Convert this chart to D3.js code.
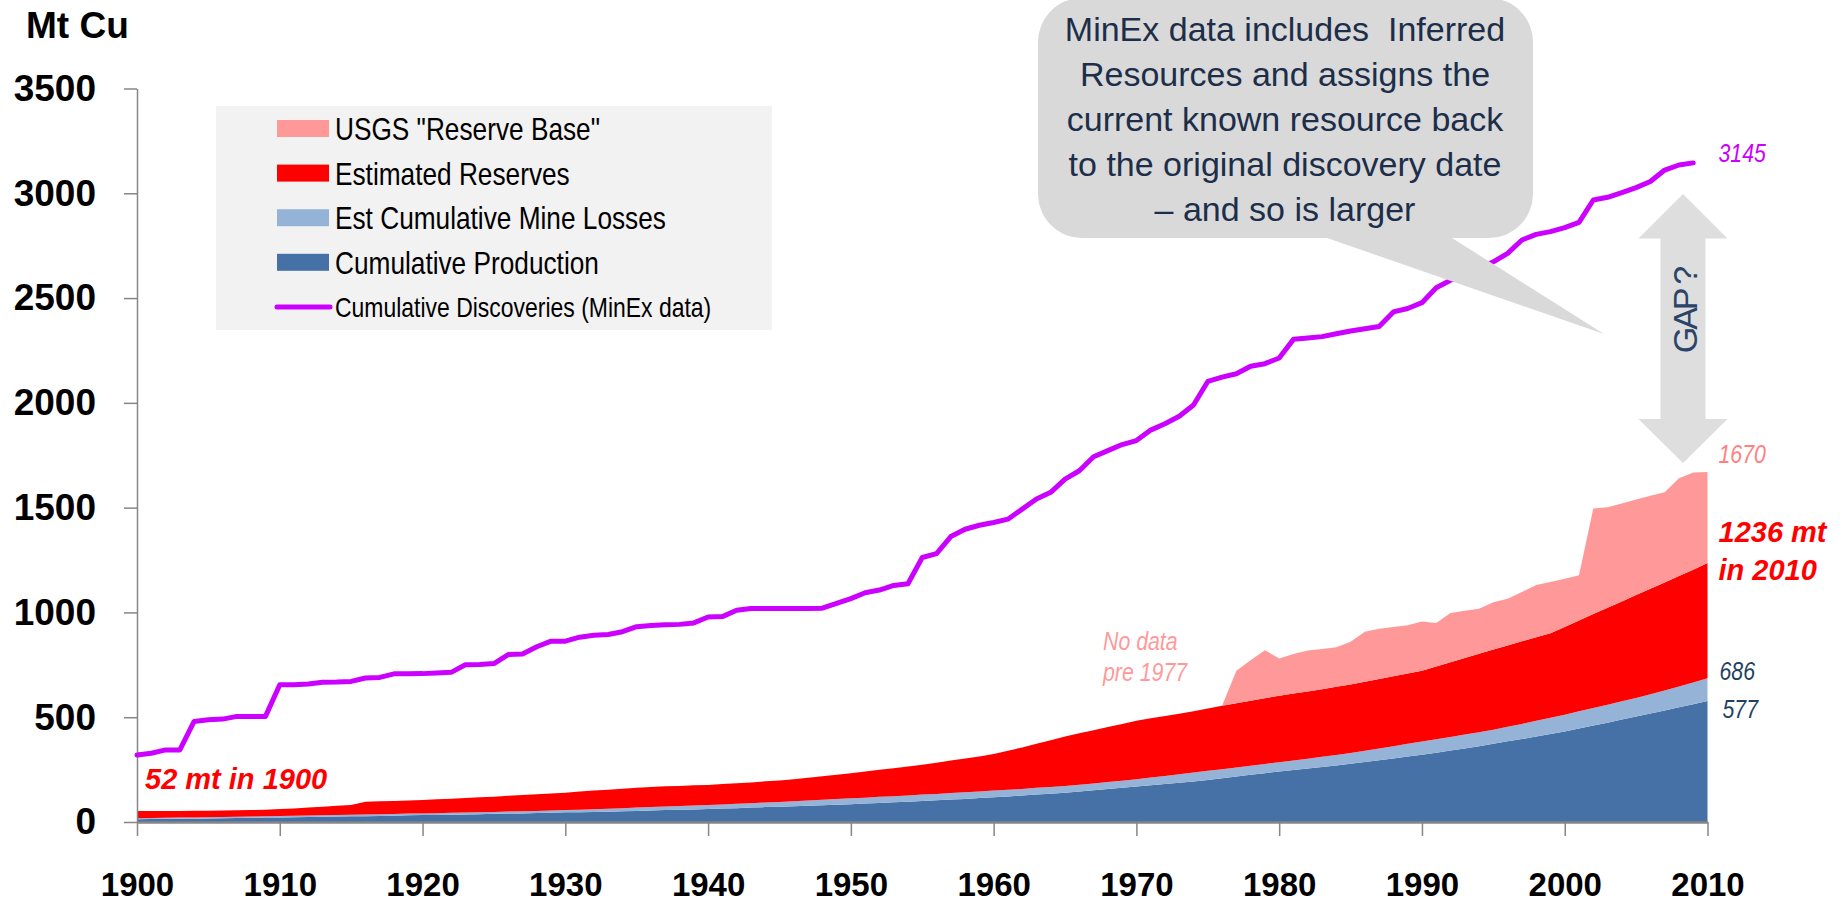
<!DOCTYPE html>
<html>
<head>
<meta charset="utf-8">
<script src="https://cdn.jsdelivr.net/npm/d3@7"></script>
<style>
  html, body { margin: 0; padding: 0; background: #fff; }
  svg { display: block; }
  text { font-family: "Liberation Sans", Arial, sans-serif; }
</style>
</head>
<body>
<div id="chart"></div>
<script>
var width = 1848, height = 907;

// categories
var years = d3.range(1900, 2011);
var discoveryYears = d3.range(1900, 2010);
var reserveBaseYears = d3.range(1976, 2011);
var yTicks = [0, 500, 1000, 1500, 2000, 2500, 3000, 3500];
var xTicks = [1900, 1910, 1920, 1930, 1940, 1950, 1960, 1970, 1980, 1990, 2000, 2010];

// stacked tops (Mt Cu), one value per year 1900-2010
var productionTop = [
  13,14,15,15,16,17,18,19,20,21,
  22,23,24,25,26,27,28,29,30,32,
  33,34,35,36,37,39,40,41,43,44,
  46,47,48,49,51,53,55,57,58,60,
  62,64,66,69,71,73,75,78,80,82,
  85,88,91,94,97,100,104,107,110,114,
  118,122,126,131,135,140,145,151,157,163,
  169,175,181,187,193,201,209,217,225,233,
  241,248,255,263,270,278,286,295,303,312,
  321,331,341,351,362,373,385,396,408,420,
  432,446,460,474,489,504,518,532,547,562,577
];
var lossesTop = [
  18,19,20,21,22,23,24,25,26,28,
  29,30,31,32,34,35,36,37,38,40,
  41,42,44,45,47,48,50,51,53,55,
  57,59,61,63,66,69,72,74,76,79,
  81,84,87,90,93,96,99,103,106,110,
  113,116,120,123,127,131,134,138,142,146,
  150,154,158,163,167,172,178,184,191,197,
  204,212,220,228,236,244,252,260,268,277,
  285,294,302,311,320,329,340,351,362,373,
  384,395,406,417,428,440,454,468,483,497,
  512,528,544,560,576,592,610,628,647,666,686
];
var reservesTop = [
  52,52,53,53,54,54,55,56,57,59,
  62,65,69,73,77,81,97,99,100,102,
  105,108,111,114,118,121,125,129,132,136,
  140,145,150,154,159,164,167,170,172,175,
  177,181,185,189,194,198,204,211,218,226,
  233,241,249,257,265,273,283,293,303,313,
  324,340,356,373,390,408,423,438,453,468,
  483,495,506,517,528,541,555,567,579,591,
  603,613,623,634,645,656,669,682,695,708,
  722,742,762,783,803,823,842,862,882,901,
  931,961,992,1022,1052,1083,1113,1143,1174,1204,1236
];
// USGS reserve base, 1976-2010
var reserveBaseTop = [
  555,722,772,820,780,802,818,826,834,860,
  908,922,930,939,957,949,997,1008,1018,1049,
  1065,1097,1131,1145,1161,1177,1496,1502,1520,1539,
  1557,1573,1640,1668,1670
];
// cumulative discoveries (MinEx), 1900-2009
var discoveries = [
  320,328,344,344,480,488,491,504,504,504,
  655,655,659,667,668,671,687,690,707,707,
  708,711,714,750,751,756,799,802,836,863,
  863,882,891,895,908,932,938,941,943,950,
  978,980,1010,1019,1019,1019,1019,1019,1020,1043,
  1066,1094,1107,1129,1137,1262,1281,1362,1397,1416,
  1429,1445,1493,1541,1573,1636,1676,1743,1772,1801,
  1820,1870,1900,1936,1990,2102,2123,2139,2175,2187,
  2214,2303,2309,2316,2330,2343,2354,2364,2434,2450,
  2478,2549,2585,2609,2641,2673,2713,2777,2804,2817,
  2836,2861,2968,2981,3003,3027,3056,3111,3135,3145
];

var legendLabels = ['USGS "Reserve Base"', 'Estimated Reserves', 'Est Cumulative Mine Losses', 'Cumulative Production', 'Cumulative Discoveries (MinEx data)'];
var calloutLines = ['MinEx data includes  Inferred', 'Resources and assigns the', 'current known resource back', 'to the original discovery date', '\u2013 and so is larger'];

var colors = {
  reserveBase: '#ff9999',
  reserves: '#ff0000',
  losses: '#95b3d7',
  production: '#4571a6',
  discoveries: '#cc00ff'
};

var svg = d3.select('#chart')
  .append('svg')
  .attr('width', width)
  .attr('height', height);

var x = d3.scaleLinear().domain([1900, 2010]).range([137, 1707.5]);
var y = d3.scaleLinear().domain([0, 3500]).range([822, 88.5]);

// arial-narrow look: squeeze a normal face horizontally
function narrowText(px, py, size, txt){
  return svg.append('text')
    .attr('transform', 'translate(' + px + ',' + py + ') scale(0.82,1)')
    .style('font-size', size + 'px')
    .text(txt);
}

// stacked bands
var bands = [
  { lower: null, upper: productionTop, color: colors.production },
  { lower: productionTop, upper: lossesTop, color: colors.losses },
  { lower: lossesTop, upper: reservesTop, color: colors.reserves }
];

var area = d3.area()
  .x(function(d){ return x(d.year); })
  .y0(function(d){ return y(d.lo); })
  .y1(function(d){ return y(d.hi); });

bands.forEach(function(b){
  var rows = years.map(function(yr, i){
    return { year: yr, lo: b.lower ? b.lower[i] : 0, hi: b.upper[i] };
  });
  svg.append('path')
    .datum(rows)
    .attr('d', area)
    .attr('fill', b.color);
});

var rbRows = reserveBaseYears.map(function(yr, i){
  return { year: yr, lo: reservesTop[yr - 1900], hi: reserveBaseTop[i] };
});
svg.append('path')
  .datum(rbRows)
  .attr('d', area)
  .attr('fill', colors.reserveBase);

// axes
var yAxis = d3.axisLeft(y)
  .tickValues(yTicks)
  .tickSize(13)
  .tickSizeOuter(0)
  .tickPadding(28)
  .tickFormat(d3.format('d'));

var gy = svg.append('g')
  .attr('transform', 'translate(' + x(1900) + ',0)')
  .call(yAxis);
gy.select('.domain').attr('stroke', '#868686').attr('stroke-width', 1.5);
gy.selectAll('.tick line').attr('stroke', '#868686').attr('stroke-width', 1.5);
gy.selectAll('.tick text')
  .attr('fill', '#000')
  .style('font-size', '37px')
  .style('font-weight', 'bold');

var xAxis = d3.axisBottom(x)
  .tickValues(xTicks)
  .tickSize(14)
  .tickSizeOuter(0)
  .tickPadding(37)
  .tickFormat(d3.format('d'));

var gx = svg.append('g')
  .attr('transform', 'translate(0,' + y(0) + ')')
  .call(xAxis);
gx.select('.domain').attr('stroke', '#868686').attr('stroke-width', 2.5);
gx.selectAll('.tick line').attr('stroke', '#868686').attr('stroke-width', 1.5);
gx.selectAll('.tick text')
  .attr('fill', '#000')
  .style('font-size', '33px')
  .style('font-weight', 'bold');

// discoveries line
var line = d3.line()
  .x(function(d, i){ return x(discoveryYears[i]); })
  .y(function(d){ return y(d); });

svg.append('path')
  .datum(discoveries)
  .attr('d', line)
  .attr('fill', 'none')
  .attr('stroke', colors.discoveries)
  .attr('stroke-width', 5)
  .attr('stroke-linejoin', 'round')
  .attr('stroke-linecap', 'round');

// y title
svg.append('text')
  .attr('x', 26)
  .attr('y', 38)
  .style('font-size', '37px')
  .style('font-weight', 'bold')
  .text('Mt Cu');

// legend
svg.append('rect')
  .attr('x', 216).attr('y', 106)
  .attr('width', 556).attr('height', 224)
  .attr('fill', '#f2f2f2');

var legendColors = [colors.reserveBase, colors.reserves, colors.losses, colors.production, colors.discoveries];
legendLabels.forEach(function(label, i){
  var cy = 128.5 + i * 44.6;
  if(i < 4){
    svg.append('rect')
      .attr('x', 277).attr('y', cy - 8.5)
      .attr('width', 52).attr('height', 17)
      .attr('fill', legendColors[i]);
  }else{
    svg.append('line')
      .attr('x1', 277).attr('x2', 330)
      .attr('y1', cy).attr('y2', cy)
      .attr('stroke', legendColors[i])
      .attr('stroke-width', 5)
      .attr('stroke-linecap', 'round');
  }
  narrowText(335, cy + (i < 4 ? 11.5 : 10), i < 4 ? 32 : 28, label);
});

// callout bubble
var cl = 1038, cr = 1533, ct = -2, cb = 238, rad = 44;
var p = d3.path();
p.moveTo(cl + rad, ct);
p.lineTo(cr - rad, ct);
p.arcTo(cr, ct, cr, ct + rad, rad);
p.lineTo(cr, cb - rad);
p.arcTo(cr, cb, cr - rad, cb, rad);
p.lineTo(1452, cb);
p.lineTo(1604, 334);
p.lineTo(1327, cb);
p.lineTo(cl + rad, cb);
p.arcTo(cl, cb, cl, cb - rad, rad);
p.lineTo(cl, ct + rad);
p.arcTo(cl, ct, cl + rad, ct, rad);
p.closePath();

svg.append('path')
  .attr('d', p.toString())
  .attr('fill', '#d9d9d9');

calloutLines.forEach(function(t, i){
  svg.append('text')
    .attr('x', 1285)
    .attr('y', 41 + i * 45)
    .attr('text-anchor', 'middle')
    .attr('fill', '#1c2e4a')
    .style('font-size', '34px')
    .style('white-space', 'pre')
    .text(t);
});

// GAP arrow
var ax = 1683;
var arrowPts = [
  [ax, 194], [ax + 44.5, 238.5], [ax + 22.5, 238.5], [ax + 22.5, 419], [ax + 44.5, 419],
  [ax, 463], [ax - 44.5, 419], [ax - 22.5, 419], [ax - 22.5, 238.5], [ax - 44.5, 238.5]
];
svg.append('polygon')
  .attr('points', arrowPts.map(function(q){ return q.join(','); }).join(' '))
  .attr('fill', '#dedede');

svg.append('text')
  .attr('transform', 'translate(1697,311) rotate(-90)')
  .attr('text-anchor', 'middle')
  .attr('fill', '#2b4468')
  .style('font-size', '34px')
  .style('letter-spacing', '-3px')
  .text('GAP ?');

// end labels
var lx = x(2010) + 11;
narrowText(lx, y(3145) - 1, 26, '3145')
  .attr('fill', colors.discoveries).style('font-style', 'italic');
narrowText(lx, y(1670) - 9, 26, '1670')
  .attr('fill', '#ff8080').style('font-style', 'italic');
svg.append('text')
  .attr('x', lx).attr('y', 542)
  .attr('fill', colors.reserves)
  .style('font-size', '29px').style('font-style', 'italic').style('font-weight', 'bold')
  .text('1236 mt');
svg.append('text')
  .attr('x', lx).attr('y', 580)
  .attr('fill', colors.reserves)
  .style('font-size', '29px').style('font-style', 'italic').style('font-weight', 'bold')
  .text('in 2010');
narrowText(lx + 1, y(686) + 2, 26, '686')
  .attr('fill', '#243f60').style('font-style', 'italic');
narrowText(lx + 4, y(577) + 17, 26, '577')
  .attr('fill', '#243f60').style('font-style', 'italic');

// notes
svg.append('text')
  .attr('x', 145).attr('y', 789)
  .attr('fill', colors.reserves)
  .style('font-size', '29px').style('font-style', 'italic').style('font-weight', 'bold')
  .text('52 mt in 1900');

narrowText(1103, 650, 26, 'No data')
  .attr('fill', colors.reserveBase).style('font-style', 'italic');
narrowText(1103, 681, 26, 'pre 1977')
  .attr('fill', colors.reserveBase).style('font-style', 'italic');
</script>
</body>
</html>
